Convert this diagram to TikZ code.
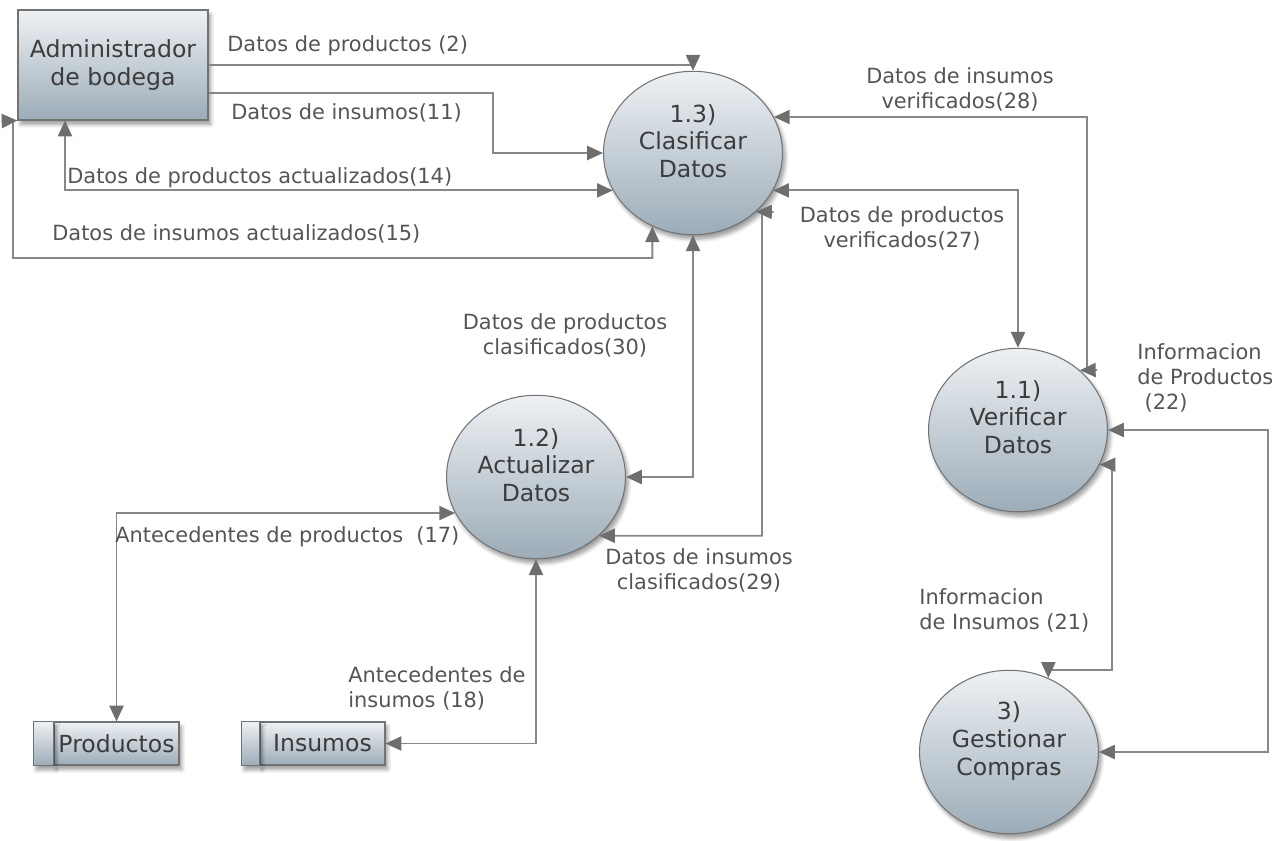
\documentclass[tikz,border=0pt]{standalone}
\usepackage{fontspec}
\setmainfont{DejaVu Sans}
\usetikzlibrary{calc, shapes.geometric, arrows.meta, shadows.blur}

\definecolor{flowgray}{RGB}{135,135,135}
\definecolor{tipgray}{RGB}{110,110,110}
\definecolor{lblgray}{RGB}{85,85,85}
\definecolor{txtgray}{RGB}{60,60,60}
\definecolor{boxtop}{RGB}{238,241,244}
\definecolor{boxbot}{RGB}{156,172,184}
\definecolor{edgegray}{RGB}{115,115,115}

\begin{document}
\begin{tikzpicture}[x=0.02cm, y=-0.02cm,
    shade/.style={draw=edgegray, line width=0.6pt, top color=boxtop, bottom color=boxbot,
        blur shadow={shadow xshift=1.5pt, shadow yshift=-2.5pt, shadow blur steps=6, shadow opacity=40}},
    proc/.style={shade, ellipse, minimum width=3.58cm, minimum height=3.27cm, inner sep=0pt},
    ptxt/.style={align=center, text=txtgray, font=\fontsize{13.4}{15.8}\selectfont},
    entity/.style={shade, rectangle, minimum width=3.8cm, minimum height=2.2cm, align=center,
        text=txtgray, font=\fontsize{13.4}{15.4}\selectfont},
    store/.style={shade, rectangle, minimum width=2.5cm, minimum height=0.86cm, inner sep=0pt,
        text=txtgray, font=\fontsize{13.4}{15.4}\selectfont},
    lbl/.style={text=lblgray, inner sep=0pt, font=\fontsize{11.9}{14.2}\selectfont},
    flow/.style={draw=flowgray, line width=1.1pt},
    one/.style={flow, -{Triangle[length=9pt, width=8pt, color=tipgray]}},
    two/.style={flow, {Triangle[length=9pt, width=8pt, color=tipgray]}-{Triangle[length=9pt, width=8pt, color=tipgray]}}]

    \useasboundingbox (0,0) rectangle (1275,840);

    % entidades, procesos y almacenes
    \node[entity] (A) at (113,65) {Administrador\\de bodega};

    \node[proc] (C) at (693,153) {};
    \node[ptxt] (Ct) at (693,141) {1.3)\\Clasificar\\Datos};
    \node[proc] (U) at (536,477) {};
    \node[ptxt] (Ut) at (536,465) {1.2)\\Actualizar\\Datos};
    \node[proc] (V) at (1018,430) {};
    \node[ptxt] (Vt) at (1018,417) {1.1)\\Verificar\\Datos};
    \node[proc] (G) at (1009,752) {};
    \node[ptxt] (Gt) at (1009,741) {3)\\Gestionar\\Compras};

    \node[store] (prod) at (116.5,743.5) {Productos};
    \draw[shade] (prod.north west) rectangle ($(prod.south west)+(-20,0)$);
    \node[store] (ins) at (322.5,743.5) {Insumos};
    \draw[shade] (ins.north west) rectangle ($(ins.south west)+(-18,0)$);

    % flujos
    \draw[one] (A.east) -| (C.north);
    \draw[one] ($(A.east)+(0,28)$) -| (493,153) -- (C.west);
    \draw[two] (C.205) -| ($(A.south)+(-48,0)$);
    \draw[two] (C.241) |- (13,258) -- (13,121) -- (2,121) -- (A.south west);
    \draw[two] (C.24) -| (1087,370) -- (1097,370) -- (V.44);
    \draw[two] (C.335) -| (V.north);
    \draw[two] (C.south) |- (U.east);
    \draw[two] (C.317) -- (773.5,212) -- (762,212) |- (U.317);
    \draw[two] (prod.north) |- (U.204);
    \draw[two] (U.south) |- (ins.east);
    \draw[two] (V.east) -| (1268,752) -- (G.east);
    \draw[two] (V.337) -| (1112,670) -| (G.62);

    % etiquetas
    \node[lbl, anchor=west] (l2) at (227,46) {Datos de productos (2)};
    \node[lbl, anchor=west] (l11) at (231,113) {Datos de insumos(11)};
    \node[lbl, anchor=west] (l14) at (67,178) {Datos de productos actualizados(14)};
    \node[lbl, anchor=west] (l15) at (52,234) {Datos de insumos actualizados(15)};
    \node[lbl, align=center] (l28) at (960,89) {Datos de insumos\\verificados(28)};
    \node[lbl, align=center] (l27) at (902,228) {Datos de productos\\verificados(27)};
    \node[lbl, align=center] (l30) at (565,335) {Datos de productos\\clasificados(30)};
    \node[lbl, align=center] (l29) at (699,570) {Datos de insumos\\clasificados(29)};
    \node[lbl, anchor=west] (l17) at (115,537) {Antecedentes de productos\ \ (17)};
    \node[lbl, anchor=west, align=left] (l18) at (348,688) {Antecedentes de\\insumos (18)};
    \node[lbl, anchor=west, align=left] (l22) at (1137,378) {Informacion\\de Productos\\\hspace*{0.35em}(22)};
    \node[lbl, anchor=west, align=left] (l21) at (919,610) {Informacion\\de Insumos (21)};
\end{tikzpicture}
\end{document}
